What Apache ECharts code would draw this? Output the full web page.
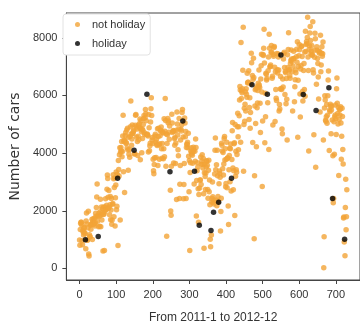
<!DOCTYPE html>
<html>
<head>
<meta charset="utf-8">
<script src="https://cdn.jsdelivr.net/npm/echarts@6/dist/echarts.min.js"></script>
<style>
  html, body { margin: 0; padding: 0; background: #fff; }
  #main { width: 360px; height: 329px; }
</style>
</head>
<body>
<div id="main"></div>
<script>
// daily count, index = day number (0 .. 730)
const dailyCount = [
  985, 801, 1349, 1562, 1600, 1606, 1510, 959, 822, 1321,
  1263, 1162, 1406, 1421, 1248, 1204, 1000, 683, 1650, 1927,
  1543, 981, 986, 1416, 1985, 506, 431, 1167, 1098, 1096,
  1501, 1360, 1526, 1550, 1708, 1005, 1623, 1712, 1530, 1605,
  1538, 1746, 1472, 1589, 1913, 1815, 2115, 2475, 2927, 1635,
  1812, 1107, 1450, 1917, 1807, 1461, 1969, 2402, 1446, 1851,
  2134, 1685, 1944, 2077, 605, 1872, 2133, 1891, 623, 1977,
  2132, 2417, 2046, 2056, 2192, 2744, 3239, 3117, 2471, 2077,
  2703, 2121, 1865, 2210, 2496, 1693, 2028, 2425, 1536, 1685,
  2227, 2252, 3249, 3115, 1795, 2808, 3141, 1471, 2455, 2895,
  3348, 2034, 2162, 3267, 3126, 795, 3744, 3429, 3204, 3944,
  4189, 1683, 4036, 4191, 4073, 4400, 3872, 4058, 4595, 5312,
  3351, 4401, 4451, 2633, 4433, 4608, 4714, 4333, 4362, 4803,
  4182, 4864, 4105, 3409, 4553, 3958, 4123, 3855, 4575, 4917,
  5805, 4660, 4274, 4492, 4978, 4677, 4679, 4758, 4788, 4098,
  3982, 3974, 4968, 5312, 5342, 4906, 4548, 4833, 4401, 3915,
  4586, 4966, 4460, 5020, 4891, 5180, 3767, 4844, 5119, 4744,
  4010, 4835, 4507, 4790, 4991, 5202, 5305, 4708, 4648, 5225,
  5515, 5362, 5119, 4649, 6043, 4665, 4629, 4592, 4040, 5336,
  4881, 4086, 4258, 4342, 5084, 5538, 5923, 5302, 4458, 4541,
  4332, 3784, 3387, 3285, 3606, 3840, 4590, 4656, 4390, 3846,
  4475, 4302, 4266, 4845, 3574, 4576, 4866, 4294, 3785, 4326,
  4602, 4780, 4792, 4905, 4150, 3820, 4338, 4725, 4694, 3805,
  4153, 5191, 3873, 4758, 5895, 5130, 3542, 4661, 1115, 4334,
  4634, 5204, 5058, 5115, 4727, 4484, 4940, 3351, 2710, 1996,
  1842, 3544, 5345, 5046, 4713, 4763, 4785, 3659, 4760, 4511,
  4274, 4539, 3641, 4352, 4795, 2395, 5423, 5010, 4630, 4120,
  3907, 4839, 5202, 2429, 2918, 3570, 4456, 4826, 4765, 4985,
  5409, 5511, 5117, 4563, 2416, 2913, 3644, 5217, 5041, 4570,
  4748, 2424, 4195, 4304, 4308, 4381, 4187, 4687, 3894, 2659,
  3747, 627, 3331, 3669, 4068, 4186, 3974, 4046, 3926, 3649,
  4035, 4205, 4109, 2933, 3368, 4067, 3717, 4486, 4195, 1817,
  3053, 3392, 3663, 3520, 2765, 1607, 2566, 1495, 2792, 3068,
  3071, 3867, 2914, 3613, 3727, 3940, 3614, 3485, 3811, 2594,
  705, 3322, 3620, 3190, 2743, 3310, 3523, 3740, 3709, 3577,
  2739, 2431, 3403, 3750, 2660, 3068, 2209, 1011, 754, 1317,
  1162, 2302, 2423, 2999, 2485, 2294, 1951, 2236, 2368, 3272,
  4098, 4521, 3425, 2376, 3598, 2177, 4097, 3214, 2493, 2311,
  2298, 2935, 3376, 3292, 3163, 1301, 1977, 2432, 4339, 4270,
  4075, 3456, 4023, 3243, 3624, 4509, 4579, 3761, 4151, 2832,
  2947, 3784, 4375, 2802, 3830, 3831, 2169, 1529, 3422, 3922,
  4169, 3005, 4154, 4318, 2689, 3129, 3777, 4773, 5062, 3487,
  2732, 3389, 4322, 4363, 1834, 4990, 3194, 4066, 3423, 3333,
  3956, 4916, 5382, 4569, 4118, 4911, 5298, 5847, 6312, 6192,
  4378, 7836, 5892, 6153, 6093, 6230, 6871, 8362, 3372, 4996,
  5558, 5102, 5698, 6133, 5459, 6235, 6041, 5936, 6772, 6436,
  6457, 6460, 6857, 5169, 5585, 5918, 4862, 5409, 6398, 7460,
  7132, 6370, 6691, 4367, 6565, 7290, 6624, 1027, 3214, 5633,
  6196, 5026, 6233, 4220, 6304, 5572, 5740, 6169, 6421, 6296,
  6883, 6359, 6273, 5728, 4717, 6572, 7030, 7429, 6118, 2843,
  5115, 7424, 7384, 7639, 8294, 7129, 4359, 6073, 5260, 6770,
  6734, 6536, 6591, 6043, 5743, 6855, 7338, 4127, 8120, 7641,
  6998, 7001, 7055, 7494, 7736, 7498, 6598, 6664, 4972, 7421,
  7363, 7665, 7702, 6978, 5099, 6825, 6211, 5905, 5823, 7458,
  6891, 6779, 7442, 7335, 6879, 5463, 5687, 5531, 6227, 6660,
  7403, 6241, 6207, 4840, 4672, 6569, 6290, 7264, 7446, 7499,
  6969, 6031, 6830, 6786, 5713, 6591, 5870, 4459, 7410, 6966,
  7592, 8173, 6861, 6904, 6685, 6597, 7105, 7216, 7580, 7261,
  7175, 6824, 5464, 7013, 7273, 7534, 7286, 5786, 6299, 6544,
  6883, 6784, 7347, 7605, 7148, 7865, 4549, 6530, 7006, 7375,
  7765, 7582, 6053, 5255, 6917, 7040, 7697, 7713, 7350, 6140,
  5810, 6034, 6864, 7112, 6203, 7504, 5976, 8227, 7525, 7767,
  7870, 7804, 8009, 8714, 7333, 6869, 4073, 7591, 7720, 8167,
  8395, 7907, 7436, 7538, 7733, 7393, 7415, 8555, 6889, 6778,
  4639, 7572, 7328, 8156, 7965, 3510, 5478, 6392, 7691, 7570,
  7282, 7109, 6639, 5875, 7534, 7461, 7509, 5424, 8090, 6824,
  7058, 7466, 7693, 7359, 7444, 7852, 4459, 22, 1096, 5566,
  5986, 5847, 5138, 5107, 5259, 5686, 5035, 5315, 5992, 6536,
  6852, 6269, 4094, 5495, 5445, 5698, 5629, 4669, 5499, 5634,
  5146, 2425, 3910, 2277, 2424, 5087, 3959, 5260, 5323, 5668,
  5191, 4649, 6234, 6606, 5729, 5375, 5008, 5582, 3228, 5170,
  5501, 5319, 5532, 5611, 5047, 3786, 4585, 5557, 5267, 4128,
  3623, 1749, 1787, 920, 1013, 441, 2114, 3095, 1341, 1796,
  2729
];

// day numbers that are holidays
const holidayDays = [16, 51, 104, 149, 184, 247, 282, 314, 327, 359, 366,
  380, 415, 471, 513, 550, 611, 646, 681, 691, 724];

const xTicks = [0, 100, 200, 300, 400, 500, 600, 700];
const yTicks = [0, 2000, 4000, 6000, 8000];
const seriesNames = ["not holiday", "holiday"];

const labelFont = "'Liberation Sans', Arial, sans-serif";
let chartInstance = null;

function initChart() {
  chartInstance = echarts.init(document.getElementById("main"), null, { renderer: "canvas" });
  const initOption = {
    backgroundColor: "#fff",
    animation: false,
    grid: {
      left: 61,
      top: 13,
      width: 308,
      bottom: 46,
      show: true,
      borderColor: "#444",
      borderWidth: 1,
    },
    legend: {
      orient: "vertical",
      left: 63,
      top: 14,
      icon: "circle",
      itemWidth: 19,
      itemHeight: 5,
      itemGap: 6,
      padding: [4, 5, 5, 12],
      backgroundColor: "#fff",
      borderColor: "#e2e2e2",
      borderWidth: 1,
      borderRadius: 3,
      textStyle: {
        fontFamily: labelFont,
        fontSize: 11,
        lineHeight: 13,
        color: "#333",
      },
      data: seriesNames,
    },
    xAxis: {
      type: "value",
      min: -36,
      max: 766,
      name: "From 2011-1 to 2012-12",
      nameLocation: "middle",
      nameGap: 32,
      nameTextStyle: { fontFamily: labelFont, fontSize: 12, color: "#333" },
      splitLine: { show: false },
      axisLine: { show: true, onZero: false, lineStyle: { color: "#444" } },
      axisTick: { show: true, length: 4, customValues: xTicks, lineStyle: { color: "#444" } },
      axisLabel: {
        customValues: xTicks,
        margin: 9,
        fontFamily: labelFont,
        fontSize: 11,
        color: "#333",
        formatter: (v) => String(v),
      },
    },
    yAxis: {
      type: "value",
      min: -400,
      max: 8860,
      name: "Number of cars",
      nameLocation: "middle",
      nameGap: 31,
      nameTextStyle: { fontFamily: "DejaVu Sans", fontSize: 14, color: "#333" },
      splitLine: { show: false },
      axisLine: { show: true, onZero: false, lineStyle: { color: "#444" } },
      axisTick: { show: true, length: 4, customValues: yTicks, lineStyle: { color: "#444" } },
      axisLabel: {
        customValues: yTicks,
        margin: 9,
        fontFamily: labelFont,
        fontSize: 11,
        color: "#333",
        formatter: (v) => String(v),
      },
    },
  };
  chartInstance.setOption(initOption);
}

function upDataChart() {
  const notHoliday = [];
  const holiday = [];
  dailyCount.forEach((count, day) => {
    if (holidayDays.indexOf(day) > -1) {
      holiday.push([day, count]);
    } else {
      notHoliday.push([day, count]);
    }
  });
  chartInstance.setOption({
    series: [
      {
        name: seriesNames[0],
        type: "scatter",
        symbolSize: 5.5,
        itemStyle: { color: "#f3a437" },
        data: notHoliday,
      },
      {
        name: seriesNames[1],
        type: "scatter",
        symbolSize: 5.5,
        itemStyle: { color: "#000" },
        data: holiday,
      },
    ],
  });
}

initChart();
upDataChart();
</script>
</body>
</html>
